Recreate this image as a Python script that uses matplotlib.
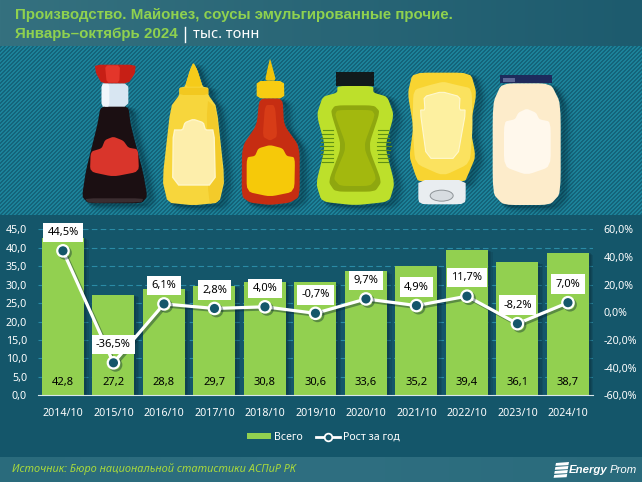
import numpy as np
import matplotlib
matplotlib.use("Agg")
import matplotlib.pyplot as plt
from matplotlib.patches import Polygon, Rectangle, Ellipse
from matplotlib.lines import Line2D
import matplotlib.patheffects as pe

periods = ["2014/10", "2015/10", "2016/10", "2017/10", "2018/10", "2019/10",
           "2020/10", "2021/10", "2022/10", "2023/10", "2024/10"]
totals = [42.8, 27.2, 28.8, 29.7, 30.8, 30.6, 33.6, 35.2, 39.4, 36.1, 38.7]
growth = [44.5, -36.5, 6.1, 2.8, 4.0, -0.7, 9.7, 4.9, 11.7, -8.2, 7.0]
left_ticks = [0, 5, 10, 15, 20, 25, 30, 35, 40, 45]
right_ticks = [-60, -40, -20, 0, 20, 40, 60]
title_line1 = "Производство. Майонез, соусы эмульгированные прочие."
title_line2 = "Январь–октябрь 2024"
unit_text = "тыс. тонн"
source_text = "Источник: Бюро национальной статистики АСПиР РК"

W, H = 642, 482
plt.rcParams["font.family"] = ["Noto Sans", "DejaVu Sans"]
BOLD = "Liberation Sans"
GREEN = "#92d050"
DARK = "#14566a"
LIME = "#8fd14f"

fig = plt.figure(figsize=(W / 100, H / 100), dpi=100)

# ---------- background ----------
bg = fig.add_axes([0, 0, 1, 1], zorder=0)
bg.axis("off")
img = np.zeros((H, W, 3))
def hexrgb(s):
    return np.array(matplotlib.colors.to_rgb(s))
xx = np.arange(W) / (W - 1)
for y in range(H):
    if y < 46:
        img[y] = np.outer(1 - xx, hexrgb("#35717f")) + np.outer(xx, hexrgb("#1d5b6e"))
    elif y < 215:
        stripe = ((np.arange(W) + y) % 4 < 2)
        img[y][stripe] = hexrgb("#1c8299")
        img[y][~stripe] = hexrgb("#14647a")
    elif y < 457:
        img[y] = hexrgb(DARK)
    else:
        img[y] = np.outer(1 - np.abs(2 * xx - 1), hexrgb("#2f6f81")) + np.outer(np.abs(2 * xx - 1), hexrgb("#2a6b7c"))
bg.imshow(img, extent=(0, W, H, 0), aspect="auto", interpolation="nearest", zorder=0)
bg.set_xlim(0, W); bg.set_ylim(H, 0)

def smooth(pts, n=2):
    p = np.array(pts, float)
    for _ in range(n):
        q = np.roll(p, -1, axis=0)
        p = np.column_stack([0.86 * p + 0.14 * q, 0.14 * p + 0.86 * q]).reshape(-1, 2)
    return p

def blob(pts, color, z=3, n=2, alpha=1, shadow=False, ec="none", lw=0):
    p = smooth(pts, n) if n else np.array(pts, float)
    if shadow:
        for k, a in ((9, .05), (7, .07), (5, .09), (3, .12)):
            bg.add_patch(Polygon(p + [k, k * .6], closed=True, fc="#04222c", ec="#04222c",
                                 lw=k * .6, alpha=a, zorder=2))
    bg.add_patch(Polygon(p, closed=True, fc=color, ec=ec, lw=lw, alpha=alpha, zorder=z))

def z5(pts):
    return [(60 + x / 3, 50 + y / 3) for x, y in pts]
def z6(pts):
    return [(300 + x / 3, 50 + y / 3) for x, y in pts]

# soy bottle
blob(z5([(122, 168), (205, 168), (212, 225), (250, 370), (262, 440), (245, 460), (85, 460),
         (66, 440), (78, 360), (112, 225)]), "#1b0f12", shadow=True)
blob(z5([(125, 100), (205, 100), (205, 170), (125, 170)]), "#d8e6f2", z=3.2, n=1)
blob(z5([(125, 100), (148, 100), (148, 170), (125, 170)]), "#f0f6fb", z=3.3, n=1)
blob(z5([(104, 44), (227, 44), (225, 70), (205, 100), (125, 100), (108, 70)]), "#c71f15", z=3.4, n=1)
blob(z5([(135, 46), (180, 46), (178, 98), (140, 98)]), "#e3362a", z=3.5, n=1)
blob(z5([(92, 305), (125, 295), (135, 270), (160, 260), (190, 272), (205, 293), (234, 298), (237, 365),
         (160, 380), (90, 365)]), "#d9352b", z=3.6)
blob(z5([(75, 445), (250, 445), (245, 457), (85, 459)]), "#4a3b3e", z=3.5, n=1, alpha=.7)

# mustard bottle
blob(z5([(400, 38), (412, 60), (428, 110), (445, 113), (445, 135), (470, 170), (494, 390), (478, 458),
         (400, 466), (323, 458), (307, 390), (332, 170), (358, 135), (358, 113), (375, 110), (390, 60)]),
     "#f7d63c", shadow=True, n=1)
blob(z5([(400, 38), (412, 60), (428, 110), (375, 110), (390, 60)]), "#f5cb1a", z=3.2, n=1)
blob(z5([(358, 113), (445, 113), (445, 135), (358, 135)]), "#f2c81f", z=3.2, n=1)
blob(z5([(440, 150), (468, 172), (491, 390), (476, 455), (445, 462)]), "#f3cb2a", z=3.15, n=1)
blob(z5([(340, 240), (368, 240), (375, 218), (400, 208), (430, 218), (436, 240), (462, 240), (466, 405),
         (338, 405)]), "#fdeeab", z=3.3, n=1, ec="#fff6c8", lw=1)

# hot sauce bottle
blob(z5([(598, 145), (668, 145), (672, 225), (719, 290), (719, 440), (690, 458), (630, 465), (570, 458),
         (545, 440), (546, 290), (590, 225)]), "#c62d12", shadow=True, n=2)
blob(z5([(615, 165), (645, 165), (652, 260), (630, 272), (608, 260)]), "#d73c17", z=3.2)
blob(z5([(630, 25), (637, 50), (648, 92), (615, 92), (624, 50)]), "#f0c40b", z=3.4, n=1)
blob(z5([(590, 93), (672, 93), (673, 145), (590, 145)]), "#f7cc12", z=3.4, n=1)
blob(z5([(560, 322), (585, 318), (595, 295), (630, 285), (668, 295), (680, 318), (705, 322), (703, 425),
         (630, 440), (560, 425)]), "#f6c909", z=3.5)

# green bottle
blob(z6([(112, 108), (220, 108), (220, 128), (262, 140), (282, 195), (255, 290), (284, 400), (268, 455),
         (165, 466), (65, 455), (48, 400), (76, 290), (50, 195), (68, 140), (112, 128)]), "#bde02b",
     shadow=True, n=3)
blob(z6([(108, 66), (222, 66), (222, 108), (108, 108)]), "#111a1c", z=3.5, n=0)
blob(z6([(105, 166), (222, 166), (240, 185), (205, 290), (245, 395), (225, 425), (105, 425), (85, 395),
         (125, 290), (92, 185)]), "#8fa70f", z=3.3, n=3)
blob(z6([(112, 180), (215, 180), (225, 195), (190, 290), (230, 385), (210, 408), (120, 408), (100, 385),
         (140, 290), (105, 195)]), "#a3b80e", z=3.4, n=3)
ribs = np.arange(240, 340, 12)
for r in ribs:
    dx = abs(r - 290) * .16
    bg.add_line(Line2D([300 + (60 + dx) / 3, 300 + (100 - dx * .2) / 3], [50 + r / 3] * 2, color="#5d8f15", lw=.8, zorder=3.35))
    bg.add_line(Line2D([300 + (232 + dx * .2) / 3, 300 + (272 - dx) / 3], [50 + r / 3] * 2, color="#5d8f15", lw=.8, zorder=3.35))

# squeeze bottle
blob(z6([(338, 68), (512, 68), (530, 130), (510, 230), (527, 320), (505, 372), (495, 395), (355, 395),
         (345, 372), (328, 320), (340, 230), (323, 130)]), "#f8d431", shadow=True)
blob(z6([(355, 390), (497, 390), (497, 455), (482, 463), (370, 463), (355, 455)]), "#e9edf0", z=3.2, n=1)
bg.add_patch(Ellipse((300 + 425 / 3, 50 + 437 / 3), 23, 11, fc="#d7dce0", ec="#8e9498", lw=.7, zorder=3.3))
blob(z6([(340, 120), (390, 105), (430, 95), (470, 105), (515, 115), (518, 230), (510, 340), (430, 378),
         (345, 340), (338, 230)]), "#fbe25f", z=3.25)
blob(z6([(372, 140), (425, 125), (480, 140), (478, 180), (498, 180), (472, 325), (380, 325), (360, 180),
         (375, 180)]), "#fdf0a0", z=3.3, n=1, ec="#fff8cf", lw=.8)

# mayo jar
blob(z6([(605, 100), (752, 100), (782, 160), (782, 430), (750, 465), (610, 465), (578, 430), (578, 160)]),
     "#fdeccb", shadow=True)
blob(z6([(600, 74), (757, 74), (757, 100), (600, 100)]), "#1e2a5c", z=3.5, n=0)
blob(z6([(608, 84), (645, 84), (645, 96), (608, 96)]), "#5d6796", z=3.6, n=0)
blob(z6([(612, 215), (645, 208), (655, 188), (680, 176), (708, 188), (718, 208), (752, 215), (752, 350),
         (680, 375), (612, 350)]), "#fff8ec", z=3.3)

# ---------- header & footer text ----------
bg.text(15, 15, title_line1, color=LIME, fontsize=10.9, fontweight="bold", family=BOLD, va="center", zorder=5)
bg.text(15, 34, title_line2, color=LIME, fontsize=10.9, fontweight="bold", family=BOLD, va="center", zorder=5)
bg.add_line(Line2D([184.5, 184.5], [27, 42], color="white", lw=1, zorder=5))
bg.text(193, 35, unit_text, color="white", fontsize=10.5, va="center", zorder=5)
bg.text(12, 469, source_text, color="#a8d93c", fontsize=7.9, fontstyle="italic", va="center", zorder=5)
bg.text(569, 470, "Energy", color="white", fontsize=8.2, fontstyle="italic", fontweight="bold", family=BOLD, va="center", zorder=5)
bg.text(610, 470, "Prom", color="white", fontsize=8.2, fontstyle="italic", family=BOLD, va="center", zorder=5)
for k, yy in enumerate((463, 467, 471, 475)):
    bg.add_patch(Polygon([(556 - k * .6, yy), (569 - k * .6, yy - 1), (568.4 - k * .6, yy + 2.2), (555.4 - k * .6, yy + 2.8)],
                         closed=True, fc="white", zorder=5))

# ---------- chart ----------
ax_l, ax_r, ax_t, ax_b = 37.7, 593.2, 229.4, 395.3
ax = fig.add_axes([ax_l / W, 1 - ax_b / H, (ax_r - ax_l) / W, (ax_b - ax_t) / H], zorder=2)
ax.patch.set_alpha(0)
x = np.arange(len(periods))
ax.set_axisbelow(True)
ax.yaxis.grid(True, color="#2a8ba5", lw=.8, ls=(0, (5, 3)))
bars = ax.bar(x, totals, width=0.83, color=GREEN, label="Всего", zorder=2,
              path_effects=[pe.SimplePatchShadow(offset=(3.5, -1.5), shadow_rgbFace="#06242e", alpha=.14),
                            pe.SimplePatchShadow(offset=(2.4, -1), shadow_rgbFace="#06242e", alpha=.16),
                            pe.SimplePatchShadow(offset=(1.2, -.5), shadow_rgbFace="#06242e", alpha=.18), pe.Normal()])
ax.set_xlim(-0.5, len(periods) - 0.5)
ax.set_ylim(0, 45)
ax.set_xticks(x, periods)
ax.set_yticks(left_ticks, [f"{v:.1f}".replace(".", ",") for v in left_ticks])
ax.tick_params(axis="both", length=0, colors="white", labelsize=7.7)
ax.tick_params(axis="y", pad=7.7)
ax.tick_params(axis="x", pad=9)
for s in ("top", "left", "right"):
    ax.spines[s].set_visible(False)
ax.spines["bottom"].set_color("#d8e6ea")
for i, v in enumerate(totals):
    ax.annotate(f"{v:.1f}".replace(".", ","), (i, 0), xytext=(0, 9.2), textcoords="offset points",
                ha="center", va="center", color="black", fontsize=8.0, zorder=3)

ax2 = ax.twinx()
ax2.patch.set_alpha(0)
ax2.set_ylim(-60, 60)
ax2.set_yticks(right_ticks, [f"{v:.1f}%".replace(".", ",") for v in right_ticks])
ax2.tick_params(axis="y", length=0, colors="white", labelsize=7.7, pad=7.6)
for s in ax2.spines.values():
    s.set_visible(False)
line, = ax2.plot(x, growth, color="white", lw=2.3, marker="o", ms=8.2, mfc=DARK, mec="white", mew=1.6,
                 label="Рост за год", zorder=4,
                 path_effects=[pe.SimpleLineShadow(offset=(1.5, -1.5), shadow_color="#06242e", alpha=.4), pe.Normal()])
for i, v in enumerate(growth):
    ax2.annotate(f"{v:.1f}%".replace(".", ","), (i, v), xytext=(0, 13.3), textcoords="offset points",
                 ha="center", va="center", color="black", fontsize=8.0, zorder=6,
                 bbox=dict(boxstyle="square,pad=0.38", fc="white", ec="none"))

leg = fig.legend(handles=[Rectangle((0, 0), 1, 1, fc=GREEN, label="Всего"),
                          Line2D([], [], color="white", lw=2, marker="o", ms=5.5, mfc=DARK, mec="white", mew=1.3,
                                 label="Рост за год")],
                 loc="center", bbox_to_anchor=(323.5 / W, 1 - 437.5 / H), ncol=2, frameon=False,
                 fontsize=7.6, labelcolor="white", handlelength=2.3, handleheight=.5, handletextpad=.3,
                 columnspacing=1.2, borderpad=0, borderaxespad=0)

fig.savefig("out.png", dpi=100)
